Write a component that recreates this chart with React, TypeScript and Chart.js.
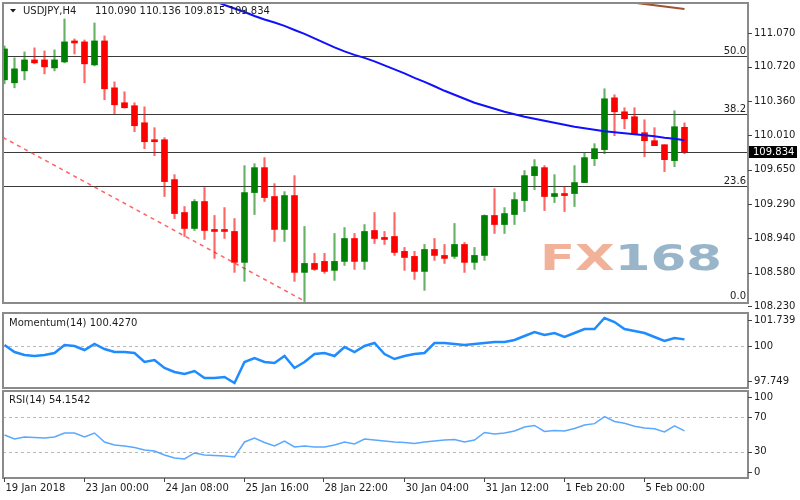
import React, { useEffect, useRef } from "react";
import { Chart, registerables } from "chart.js";

Chart.register(...registerables);

// ---------- data ----------
const symbolName = "USDJPY,H4";

const candleOpen = [
  110.583, 110.552, 110.676, 110.790, 110.790, 110.707, 110.769, 110.987, 110.977, 110.738,
  110.987, 110.500, 110.345, 110.314, 110.137, 109.961, 109.961, 109.547, 109.205, 109.039,
  109.319, 109.018, 109.018, 109.008, 108.687, 109.412, 109.671, 109.371, 109.029, 109.381,
  108.583, 108.676, 108.697, 108.604, 108.697, 108.935, 108.697, 109.018, 108.946, 108.956,
  108.801, 108.749, 108.593, 108.821, 108.759, 108.749, 108.873, 108.687, 108.759, 109.174,
  109.080, 109.184, 109.329, 109.588, 109.671, 109.371, 109.402, 109.402, 109.516, 109.764,
  109.858, 110.396, 110.251, 110.200, 110.034, 109.951, 109.909, 109.744, 110.090,
];
const candleHigh = [
  110.935, 110.811, 110.873, 110.915, 110.883, 110.894, 111.215, 111.008, 110.997, 111.174,
  111.039, 110.562, 110.459, 110.345, 110.303, 110.086, 109.982, 109.598, 109.267, 109.339,
  109.464, 109.174, 109.256, 109.142, 109.692, 109.712, 109.775, 109.505, 109.422, 109.588,
  109.060, 108.780, 108.780, 108.987, 109.049, 108.987, 109.080, 109.205, 109.008, 109.205,
  108.842, 108.801, 108.873, 108.935, 108.873, 109.091, 108.894, 108.842, 109.180, 109.453,
  109.256, 109.412, 109.640, 109.754, 109.692, 109.598, 109.474, 109.692, 109.826, 109.920,
  110.490, 110.428, 110.293, 110.293, 110.168, 110.086, 109.909, 110.262, 110.136,
];
const candleLow = [
  110.542, 110.500, 110.583, 110.749, 110.645, 110.676, 110.759, 110.852, 110.552, 110.728,
  110.376, 110.231, 110.290, 110.044, 109.868, 109.795, 109.371, 109.142, 108.956, 109.018,
  108.925, 108.728, 108.935, 108.583, 108.490, 109.184, 109.319, 108.904, 108.904, 108.490,
  108.280, 108.604, 108.573, 108.500, 108.655, 108.614, 108.614, 108.883, 108.873, 108.759,
  108.604, 108.510, 108.396, 108.707, 108.676, 108.728, 108.583, 108.614, 108.707, 108.987,
  108.987, 109.080, 109.215, 109.443, 109.225, 109.308, 109.215, 109.267, 109.516, 109.692,
  109.816, 110.003, 110.075, 110.023, 109.785, 109.899, 109.630, 109.681, 109.815,
];
const candleClose = [
  110.904, 110.697, 110.790, 110.759, 110.718, 110.790, 110.977, 110.966, 110.749, 110.987,
  110.490, 110.324, 110.293, 110.106, 109.940, 109.940, 109.526, 109.194, 109.039, 109.319,
  109.018, 109.008, 109.008, 108.687, 109.412, 109.671, 109.360, 109.029, 109.381, 108.583,
  108.676, 108.614, 108.593, 108.697, 108.935, 108.697, 109.008, 108.935, 108.925, 108.790,
  108.738, 108.593, 108.821, 108.759, 108.728, 108.873, 108.687, 108.759, 109.174, 109.080,
  109.194, 109.339, 109.588, 109.681, 109.371, 109.402, 109.381, 109.516, 109.775, 109.868,
  110.386, 110.251, 110.179, 110.023, 109.951, 109.899, 109.754, 110.096, 109.834,
];

// blue moving average, starting at bar 20
const maBlueStart = 20;
const maBlue = [
  111.443, 111.402, 111.360, 111.324, 111.288, 111.246, 111.210, 111.179, 111.143, 111.101,
  111.060, 111.013, 110.966, 110.920, 110.878, 110.842, 110.811, 110.775, 110.733, 110.692,
  110.650, 110.604, 110.562, 110.516, 110.469, 110.428, 110.386, 110.345, 110.314, 110.283,
  110.252, 110.226, 110.200, 110.179, 110.158, 110.137, 110.117, 110.096, 110.081, 110.065,
  110.049, 110.039, 110.029, 110.018, 110.008, 109.997, 109.982, 109.972, 109.956,
];
// brown moving average, starting at bar 62
const maBrownStart = 62;
const maBrown = [111.400, 111.384, 111.371, 111.357, 111.345, 111.331, 111.318];

// dashed trend line (bar position, price)
const trendX = [-0.15, 29.95];
const trendY = [109.985, 108.288];

// fibonacci levels
const fibLabels = ["0.0", "23.6", "38.2", "50.0"];
const fibPrices = [108.280, 109.484, 110.230, 110.832];

const priceTicks = [111.070, 110.720, 110.360, 110.010, 109.650, 109.290, 108.940, 108.580, 108.230];
const priceMin = 108.265;
const priceMax = 111.381;

const momentum = [
  100.082, 99.652, 99.468, 99.406, 99.468, 99.590, 100.082, 100.020, 99.775, 100.143,
  99.836, 99.652, 99.652, 99.590, 99.038, 99.161, 98.670, 98.424, 98.301, 98.485,
  98.055, 98.055, 98.117, 97.749, 99.038, 99.283, 99.038, 98.976, 99.406, 98.670,
  99.038, 99.529, 99.590, 99.406, 99.959, 99.652, 100.020, 100.204, 99.529, 99.222,
  99.406, 99.529, 99.590, 100.204, 100.204, 100.143, 100.082, 100.143, 100.204, 100.266,
  100.266, 100.388, 100.634, 100.880, 100.695, 100.818, 100.573, 100.818, 101.064, 101.064,
  101.739, 101.493, 101.064, 100.941, 100.818, 100.573, 100.327, 100.511, 100.427,
];
const momTicks = [101.739, 100, 97.749];
const momMin = 97.442;
const momMax = 102.046;

const rsi = [
  49.4, 44.8, 47.1, 46.6, 46.0, 47.1, 51.7, 51.7, 47.1, 51.7,
  41.4, 38.0, 36.8, 35.1, 32.2, 31.1, 26.5, 23.0, 21.9, 28.8,
  26.5, 25.9, 25.3, 24.2, 41.4, 46.0, 40.8, 36.8, 42.5, 35.7,
  36.8, 35.7, 35.7, 38.0, 41.4, 39.1, 44.8, 43.7, 42.5, 41.4,
  40.8, 39.7, 41.4, 42.5, 43.7, 44.3, 41.4, 43.7, 52.3, 50.6,
  51.7, 54.0, 58.6, 60.4, 53.5, 54.5, 54.0, 57.0, 61.0, 62.5,
  70.5, 65.0, 63.0, 59.5, 57.5, 56.5, 53.0, 60.0, 54.1542,
];
const rsiTicks = [100, 70, 30, 0];
const rsiLevels = [70, 30];

const xTickIndex = [0, 8, 16, 24, 32, 40, 48, 56, 64];
const xTickLabels = [
  "19 Jan 2018", "23 Jan 00:00", "24 Jan 08:00", "25 Jan 16:00", "28 Jan 22:00",
  "30 Jan 04:00", "31 Jan 12:00", "1 Feb 20:00", "5 Feb 00:00",
];

// ---------- styling ----------
const FONT = '10px "DejaVu Sans", sans-serif';
const TEXT = "#1c1c1c";
const FRAME = "#8a8a8a";
const BULL = "#008000";
const BEAR = "#ff0000";
const BULL_WICK = "rgba(0,128,0,0.6)";
const BEAR_WICK = "rgba(255,0,0,0.6)";
const X_MIN = -0.15;
const X_MAX = 74.35;

function xScale(): any {
  return {
    type: "linear",
    min: X_MIN,
    max: X_MAX,
    offset: false,
    grid: { offset: false },
    display: false,
  };
}

function drawFrame(ctx: CanvasRenderingContext2D, a: any) {
  ctx.save();
  ctx.strokeStyle = FRAME;
  ctx.lineWidth = 2;
  ctx.strokeRect(a.left, a.top, a.right - a.left, a.bottom - a.top);
  ctx.restore();
}

function drawRightLabels(
  chart: any,
  ticks: number[],
  fmt: (v: number) => string,
  clamp: number | null
) {
  const ctx: CanvasRenderingContext2D = chart.ctx;
  const a = chart.chartArea;
  const y = chart.scales.y;
  ctx.save();
  ctx.font = FONT;
  ctx.fillStyle = TEXT;
  ctx.strokeStyle = "#444";
  ctx.lineWidth = 1;
  ctx.textBaseline = "middle";
  ctx.textAlign = "left";
  ticks.forEach((v) => {
    let py = y.getPixelForValue(v);
    if (clamp !== null) py = Math.min(Math.max(py, a.top + clamp), a.bottom - clamp);
    const ry = Math.round(py) + 0.5;
    ctx.beginPath();
    ctx.moveTo(a.right, ry);
    ctx.lineTo(a.right + 4, ry);
    ctx.stroke();
    ctx.fillText(fmt(v), a.right + 6, py);
  });
  ctx.restore();
}

function drawHLine(chart: any, value: number, color: string, width: number, dash: number[]) {
  const ctx: CanvasRenderingContext2D = chart.ctx;
  const a = chart.chartArea;
  const py = Math.round(chart.scales.y.getPixelForValue(value)) + 0.5;
  ctx.save();
  ctx.strokeStyle = color;
  ctx.lineWidth = width;
  ctx.setLineDash(dash);
  ctx.beginPath();
  ctx.moveTo(a.left, py);
  ctx.lineTo(a.right, py);
  ctx.stroke();
  ctx.restore();
}

export default function App() {
  const mainRef = useRef<HTMLCanvasElement>(null);
  const momRef = useRef<HTMLCanvasElement>(null);
  const rsiRef = useRef<HTMLCanvasElement>(null);

  useEffect(() => {
    const charts: Chart[] = [];
    const idx = candleOpen.map((_, i) => i);
    const isBull = (i: number) => candleClose[i] >= candleOpen[i];
    const lastI = candleClose.length - 1;

    // ---------- main price panel ----------
    const mainPlugin = {
      id: "mainDecor",
      beforeDatasetsDraw(chart: any) {
        const ctx: CanvasRenderingContext2D = chart.ctx;
        // FX168 watermark
        ctx.save();
        ctx.font = 'bold 36px "DejaVu Sans", sans-serif';
        ctx.textBaseline = "alphabetic";
        const w1 = ctx.measureText("FX").width;
        const w2 = ctx.measureText("168").width;
        const sx = 182 / (w1 + w2);
        ctx.translate(540, 270);
        ctx.scale(sx, 1);
        ctx.fillStyle = "rgba(238,165,135,0.85)";
        ctx.fillText("FX", 0, 0);
        ctx.fillStyle = "rgba(135,168,192,0.85)";
        ctx.fillText("168", w1, 0);
        ctx.restore();
        // fib levels and current price line
        fibPrices.forEach((p) => drawHLine(chart, p, "#3a3a3a", 1.2, []));
        drawHLine(chart, candleClose[lastI], "#3a3a3a", 1.2, []);
      },
      afterDraw(chart: any) {
        const ctx: CanvasRenderingContext2D = chart.ctx;
        const a = chart.chartArea;
        const y = chart.scales.y;
        drawFrame(ctx, a);
        // fib labels
        ctx.save();
        ctx.font = FONT;
        ctx.fillStyle = TEXT;
        ctx.textAlign = "right";
        ctx.textBaseline = "alphabetic";
        fibPrices.forEach((p, k) => {
          const py = y.getPixelForValue(p);
          ctx.fillText(fibLabels[k], a.right - 2, Math.min(py - 2, a.bottom - 4));
        });
        ctx.restore();
        drawRightLabels(chart, priceTicks, (v) => v.toFixed(3), null);
        // current price box
        const cp = candleClose[lastI];
        const py = y.getPixelForValue(cp);
        ctx.save();
        ctx.fillStyle = "#000";
        ctx.fillRect(a.right + 1, Math.round(py) - 6, 48, 12);
        ctx.font = FONT;
        ctx.fillStyle = "#fff";
        ctx.textBaseline = "middle";
        ctx.fillText(cp.toFixed(3), a.right + 5, py);
        // header
        ctx.fillStyle = TEXT;
        ctx.beginPath();
        ctx.moveTo(10, 9);
        ctx.lineTo(16, 9);
        ctx.lineTo(13, 12.5);
        ctx.closePath();
        ctx.fill();
        ctx.fillText(symbolName, 23, 11);
        const hdr = [candleOpen[lastI], candleHigh[lastI], candleLow[lastI], candleClose[lastI]]
          .map((v) => v.toFixed(3))
          .join(" ");
        ctx.fillText(hdr, 95, 11);
        ctx.restore();
      },
    };

    if (mainRef.current) {
      charts.push(
        new Chart(mainRef.current, {
          type: "bar",
          data: {
            datasets: [
              {
                type: "line",
                data: maBlue.map((v, k) => ({ x: maBlueStart + k, y: v })),
                borderColor: "#1010ff",
                borderWidth: 2,
                pointRadius: 0,
                tension: 0,
                clip: 0,
                order: 0,
              } as any,
              {
                type: "line",
                data: maBrown.map((v, k) => ({ x: maBrownStart + k, y: v })),
                borderColor: "#a0522d",
                borderWidth: 2,
                pointRadius: 0,
                tension: 0,
                clip: 0,
                order: 0,
              } as any,
              {
                type: "line",
                data: trendX.map((x, k) => ({ x, y: trendY[k] })),
                borderColor: "rgba(255,70,70,0.85)",
                borderWidth: 1.5,
                borderDash: [4, 4],
                pointRadius: 0,
                clip: 0,
                order: 3,
              } as any,
              {
                type: "bar",
                data: idx.map((i) => ({ x: i, y: [candleOpen[i], candleClose[i]] })),
                backgroundColor: idx.map((i) => (isBull(i) ? BULL : BEAR)),
                barThickness: 6,
                minBarLength: 2,
                grouped: false,
                order: 1,
              } as any,
              {
                type: "bar",
                data: idx.map((i) => ({ x: i, y: [candleLow[i], candleHigh[i]] })),
                backgroundColor: idx.map((i) => (isBull(i) ? BULL_WICK : BEAR_WICK)),
                barThickness: 1.5,
                grouped: false,
                order: 2,
              } as any,
            ],
          },
          options: {
            animation: false,
            responsive: false,
            devicePixelRatio: 1,
            layout: { padding: { left: 3, right: 52, top: 3, bottom: 8 } },
            scales: {
              x: xScale(),
              y: { type: "linear", min: priceMin, max: priceMax, display: false },
            },
            plugins: { legend: { display: false }, tooltip: { enabled: false } },
          } as any,
          plugins: [mainPlugin],
        })
      );
    }

    // ---------- momentum panel ----------
    const momPlugin = {
      id: "momDecor",
      beforeDatasetsDraw(chart: any) {
        drawHLine(chart, 100, "#b8b8b8", 1, [3, 3]);
      },
      afterDraw(chart: any) {
        const ctx: CanvasRenderingContext2D = chart.ctx;
        drawFrame(ctx, chart.chartArea);
        drawRightLabels(chart, momTicks, (v) => (Number.isInteger(v) ? String(v) : v.toFixed(3)), 7);
        ctx.save();
        ctx.font = FONT;
        ctx.fillStyle = TEXT;
        ctx.textBaseline = "middle";
        ctx.fillText("Momentum(14) " + momentum[momentum.length - 1].toFixed(4), 9, 12);
        ctx.restore();
      },
    };
    if (momRef.current) {
      charts.push(
        new Chart(momRef.current, {
          type: "line",
          data: {
            datasets: [
              {
                data: momentum.map((v, i) => ({ x: i, y: v })),
                borderColor: "#1e8cff",
                borderWidth: 2.5,
                pointRadius: 0,
                tension: 0,
              },
            ],
          },
          options: {
            animation: false,
            responsive: false,
            devicePixelRatio: 1,
            layout: { padding: { left: 3, right: 52, top: 2, bottom: 2 } },
            scales: {
              x: xScale(),
              y: { type: "linear", min: momMin, max: momMax, display: false },
            },
            plugins: { legend: { display: false }, tooltip: { enabled: false } },
          } as any,
          plugins: [momPlugin],
        })
      );
    }

    // ---------- RSI panel ----------
    const rsiPlugin = {
      id: "rsiDecor",
      beforeDatasetsDraw(chart: any) {
        rsiLevels.forEach((l) => drawHLine(chart, l, "#b8b8b8", 1, [3, 3]));
      },
      afterDraw(chart: any) {
        const ctx: CanvasRenderingContext2D = chart.ctx;
        const a = chart.chartArea;
        drawFrame(ctx, a);
        drawRightLabels(chart, rsiTicks, (v) => String(v), 6);
        ctx.save();
        ctx.font = FONT;
        ctx.fillStyle = TEXT;
        ctx.textBaseline = "middle";
        ctx.fillText("RSI(14) " + rsi[rsi.length - 1].toFixed(4), 9, 10);
        // time axis
        const xs = chart.scales.x;
        ctx.strokeStyle = "#444";
        ctx.lineWidth = 1;
        xTickIndex.forEach((ti, k) => {
          const px = Math.round(xs.getPixelForValue(ti)) - 0.5;
          ctx.beginPath();
          ctx.moveTo(px, a.bottom);
          ctx.lineTo(px, a.bottom + 4);
          ctx.stroke();
          ctx.fillText(xTickLabels[k], px + 1, a.bottom + 10);
        });
        ctx.restore();
      },
    };
    if (rsiRef.current) {
      charts.push(
        new Chart(rsiRef.current, {
          type: "line",
          data: {
            datasets: [
              {
                data: rsi.map((v, i) => ({ x: i, y: v })),
                borderColor: "#5aa8ff",
                borderWidth: 1.5,
                pointRadius: 0,
                tension: 0,
              },
            ],
          },
          options: {
            animation: false,
            responsive: false,
            devicePixelRatio: 1,
            layout: { padding: { left: 3, right: 52, top: 1, bottom: 22 } },
            scales: {
              x: xScale(),
              y: { type: "linear", min: 0, max: 100, display: false },
            },
            plugins: { legend: { display: false }, tooltip: { enabled: false } },
          } as any,
          plugins: [rsiPlugin],
        })
      );
    }

    return () => charts.forEach((c) => c.destroy());
  }, []);

  const cv: React.CSSProperties = { position: "absolute", left: 0, display: "block" };
  return (
    <div
      style={{
        position: "fixed",
        left: 0,
        top: 0,
        width: 800,
        height: 500,
        background: "#fff",
        overflow: "hidden",
      }}
    >
      <canvas ref={mainRef} width={800} height={311} style={{ ...cv, top: 0 }} />
      <canvas ref={momRef} width={800} height={79} style={{ ...cv, top: 311 }} />
      <canvas ref={rsiRef} width={800} height={110} style={{ ...cv, top: 390 }} />
    </div>
  );
}
